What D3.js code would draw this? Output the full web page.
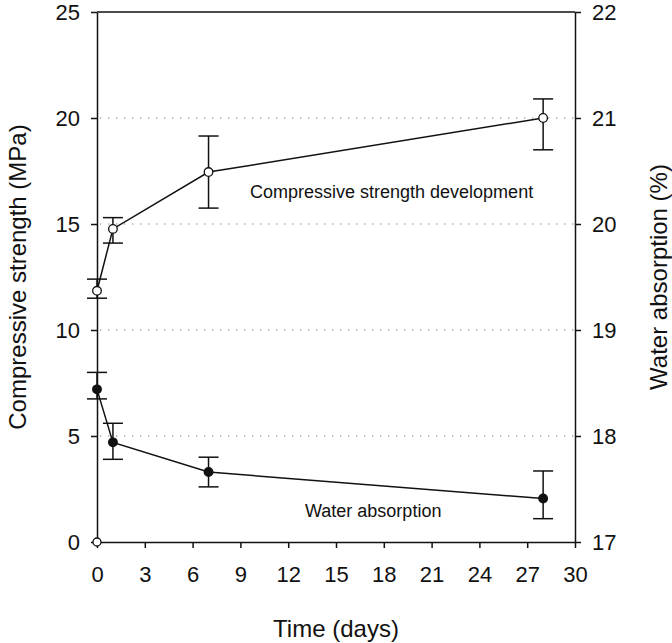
<!DOCTYPE html>
<html>
<head>
<meta charset="utf-8">
<script src="https://cdn.jsdelivr.net/npm/d3@7"></script>
<style>
  body { margin: 0; background: #fff; }
  svg text { font-family: "Liberation Sans", Arial, sans-serif; fill: #111; }
</style>
</head>
<body>
<div id="chart"></div>
<script>
// data
var days = [0, 1, 7, 28];
var strength = [11.85, 14.77, 17.45, 20.0];
var strengthHi = [12.4, 15.3, 19.15, 20.9];
var strengthLo = [11.5, 14.1, 15.75, 18.5];
var absorption = [18.44, 17.94, 17.66, 17.41];
var absorptionHi = [18.6, 18.12, 17.8, 17.67];
var absorptionLo = [18.35, 17.78, 17.52, 17.22];
var originDays = [0];
var originStrength = [0];
var xTicks = [0, 3, 6, 9, 12, 15, 18, 21, 24, 27, 30];
var leftTicks = [0, 5, 10, 15, 20, 25];
var rightTicks = [17, 18, 19, 20, 21, 22];
var gridTicks = [5, 10, 15, 20];

var W = 672, H = 643;
var margin = { top: 12, right: 97, bottom: 101, left: 97 },
  width = W - margin.left - margin.right,
  height = H - margin.top - margin.bottom;

var svg = d3
  .select("#chart")
  .append("svg")
  .attr("width", W)
  .attr("height", H);

var g = svg
  .append("g")
  .attr("transform", "translate(" + margin.left + "," + margin.top + ")");

var x = d3.scaleLinear().domain([0, 30]).range([0, width]);
var yL = d3.scaleLinear().domain([0, 25]).range([height, 0]);
var yR = d3.scaleLinear().domain([17, 22]).range([height, 0]);

// dotted grid
g.selectAll(".grid")
  .data(gridTicks)
  .enter()
  .append("line")
  .attr("x1", 3)
  .attr("x2", width)
  .attr("y1", function (d) { return yL(d); })
  .attr("y2", function (d) { return yL(d); })
  .attr("stroke", "#aaa")
  .attr("stroke-width", 1.3)
  .attr("stroke-dasharray", "1.3,6.7");

function styleAxis(sel) {
  sel.selectAll("path, line").attr("stroke", "#111").attr("stroke-width", 1.5);
  sel.selectAll("text").style("font-size", "22px").attr("fill", "#111");
}

g.append("g")
  .attr("transform", "translate(0," + height + ")")
  .call(d3.axisBottom(x).tickValues(xTicks).tickSize(6).tickSizeOuter(0).tickPadding(18))
  .call(styleAxis);

g.append("g")
  .call(d3.axisLeft(yL).tickValues(leftTicks).tickFormat(d3.format("d"))
    .tickSize(6).tickSizeOuter(0).tickPadding(11))
  .call(styleAxis);

g.append("g")
  .attr("transform", "translate(" + width + ",0)")
  .call(d3.axisRight(yR).tickValues(rightTicks).tickFormat(d3.format("d"))
    .tickSize(6).tickSizeOuter(0).tickPadding(11))
  .call(styleAxis);

// top frame line
g.append("line")
  .attr("x1", 0).attr("x2", width)
  .attr("y1", 0).attr("y2", 0)
  .attr("stroke", "#111").attr("stroke-width", 1.5);

function drawSeries(vals, hi, lo, y, filled) {
  var pts = days.map(function (d, i) {
    return { x: d, v: vals[i], hi: hi[i], lo: lo[i] };
  });
  var line = d3.line()
    .x(function (d) { return x(d.x); })
    .y(function (d) { return y(d.v); });
  g.append("path")
    .datum(pts)
    .attr("d", line)
    .attr("fill", "none")
    .attr("stroke", "#111")
    .attr("stroke-width", 1.5);

  var eb = g.selectAll(null).data(pts).enter().append("g");
  eb.append("line")
    .attr("x1", function (d) { return x(d.x); })
    .attr("x2", function (d) { return x(d.x); })
    .attr("y1", function (d) { return y(d.hi); })
    .attr("y2", function (d) { return y(d.lo); })
    .attr("stroke", "#111").attr("stroke-width", 1.5);
  ["hi", "lo"].forEach(function (k) {
    eb.append("line")
      .attr("x1", function (d) { return x(d.x) - 10; })
      .attr("x2", function (d) { return x(d.x) + 10; })
      .attr("y1", function (d) { return y(d[k]); })
      .attr("y2", function (d) { return y(d[k]); })
      .attr("stroke", "#111").attr("stroke-width", 1.5);
  });

  g.selectAll(null).data(pts).enter().append("circle")
    .attr("cx", function (d) { return x(d.x); })
    .attr("cy", function (d) { return y(d.v); })
    .attr("r", 4.3)
    .attr("fill", filled ? "#111" : "#fff")
    .attr("stroke", "#111")
    .attr("stroke-width", 1.3);
}

drawSeries(strength, strengthHi, strengthLo, yL, false);
drawSeries(absorption, absorptionHi, absorptionLo, yR, true);

g.selectAll(null).data(originDays).enter().append("circle")
  .attr("cx", function (d) { return x(d); })
  .attr("cy", function (d, i) { return yL(originStrength[i]); })
  .attr("r", 4)
  .attr("fill", "#fff")
  .attr("stroke", "#111")
  .attr("stroke-width", 1.3);

// in-plot labels
g.append("text")
  .attr("x", 153).attr("y", 186)
  .style("font-size", "18px")
  .text("Compressive strength development");

g.append("text")
  .attr("x", 208).attr("y", 505)
  .style("font-size", "18px")
  .text("Water absorption");

// axis titles
svg.append("text")
  .attr("x", margin.left + width / 2).attr("y", 637)
  .attr("text-anchor", "middle")
  .style("font-size", "24px")
  .text("Time (days)");

svg.append("text")
  .attr("transform", "translate(26," + (margin.top + height / 2) + ") rotate(-90)")
  .attr("text-anchor", "middle")
  .style("font-size", "24px")
  .text("Compressive strength (MPa)");

svg.append("text")
  .attr("transform", "translate(667," + (margin.top + height / 2) + ") rotate(-90)")
  .attr("text-anchor", "middle")
  .style("font-size", "24px")
  .text("Water absorption (%)");
</script>
</body>
</html>
